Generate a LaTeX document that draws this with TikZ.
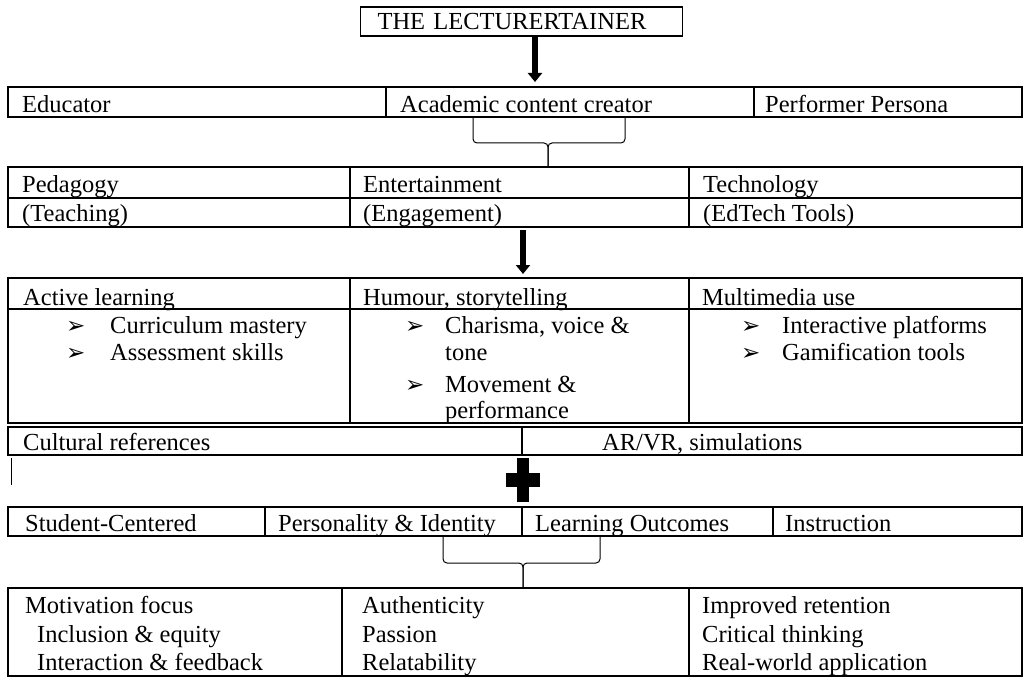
\documentclass[tikz,border=0pt]{standalone}
\usepackage{fontspec}
\setmainfont{Liberation Serif}
\newfontfamily\bulletfont{DejaVu Sans}
\usetikzlibrary{arrows.meta}
\tikzset{
  txt/.style={anchor=base west, inner sep=0pt, font=\fontsize{24.5}{29}\selectfont},
  bul/.style={anchor=base west, inner sep=0pt, font=\bulletfont\fontsize{23}{26}\selectfont},
  grid/.style={line width=1.1pt, black},
  bigarrow/.style={line width=6pt, -{Triangle[width=14pt,length=9pt]}},
  brace/.style={line width=1pt, rounded corners=4pt},
}
\begin{document}
\begin{tikzpicture}[x=1pt,y=-1pt]
\useasboundingbox (0,0) rectangle (1033,679);
% title
\node[draw, grid, anchor=west, text width=288pt, inner xsep=17pt, inner ysep=0pt,
      minimum height=29pt, align=left,
      font=\fontsize{24.5}{29}\selectfont] (title) at (360,21.5) {THE LECTURERTAINER};
\coordinate (a1s) at (535,37);
\coordinate (a1e) at (535,82);
\draw[bigarrow] (a1s) -- (a1e);
% row 1
\draw[grid] (8,87) rectangle (1022,117);
\draw[grid] (386,87) -- (386,117) (754,87) -- (754,117);
\node[txt] (educ) at (22,113) {Educator};
\node[txt] (acad) at (400,113) {Academic content creator};
\node[txt] (perf) at (765,113) {Performer Persona};
% brace 1
\coordinate (b1l) at (473,118);
\coordinate (b1r) at (625,118);
\coordinate (b1t) at (548,167);
\draw[brace] (b1l) -- (473,143) -- (548,143) -- (b1t);
\draw[brace] (b1r) -- (625,143) -- (548,143) -- (b1t);
% row 2
\draw[grid] (8,167) rectangle (1022,227);
\draw[grid] (8,198) -- (1022,198);
\draw[grid] (350,167) -- (350,227) (689,167) -- (689,227);
\node[txt] (ped) at (22,193) {Pedagogy};
\node[txt] (ent) at (363,193) {Entertainment};
\node[txt] (tech) at (703,193) {Technology};
\node[txt] (teach) at (22,222) {(Teaching)};
\node[txt] (eng) at (363,222) {(Engagement)};
\node[txt] (edt) at (703,222) {(EdTech Tools)};
\coordinate (a2s) at (523,230);
\coordinate (a2e) at (523,274);
\draw[bigarrow] (a2s) -- (a2e);
% row 3
\draw[grid] (8,278) rectangle (1022,423);
\draw[grid] (8,309) -- (1022,309);
\draw[grid] (350,278) -- (350,423) (689,278) -- (689,423);
\node[txt] (act) at (23,305) {Active learning};
\node[txt] (hum) at (363,305) {Humour, storytelling};
\node[txt] (mul) at (702,305) {Multimedia use};
\node[bul] (b11) at (66,333) {➢};
\node[txt] (cur) at (110,333) {Curriculum mastery};
\node[bul] (b12) at (66,360) {➢};
\node[txt] (ass) at (110,360) {Assessment skills};
\node[bul] (b21) at (405,333) {➢};
\node[txt] (cha) at (445,333) {Charisma, voice \&};
\node[txt] (ton) at (445,360) {tone};
\node[bul] (b22) at (405,392) {➢};
\node[txt] (mov) at (445,392) {Movement \&};
\node[txt] (prf) at (445,418) {performance};
\node[bul] (b31) at (741,333) {➢};
\node[txt] (int) at (782,333) {Interactive platforms};
\node[bul] (b32) at (741,360) {➢};
\node[txt] (gam) at (782,360) {Gamification tools};
% row 4
\draw[grid] (8,427) rectangle (1022,455);
\draw[grid] (522,427) -- (522,455);
\node[txt] (cul) at (23,450) {Cultural references};
\node[txt] (arv) at (602,450) {AR/VR, simulations};
\draw[line width=1pt] (11,458) -- (11,485);
% plus
\fill (517,458) rectangle (529,502);
\fill (506,473) rectangle (540,487);
% row 5
\draw[grid] (8,507) rectangle (1022,536);
\draw[grid] (265,507) -- (265,536) (522,507) -- (522,536) (773,507) -- (773,536);
\node[txt] (stu) at (25,531) {Student-Centered};
\node[txt] (per) at (278,531) {Personality \& Identity};
\node[txt] (lea) at (535,531) {Learning Outcomes};
\node[txt] (ins) at (785,531) {Instruction};
% brace 2
\coordinate (b2l) at (443,537);
\coordinate (b2r) at (600,537);
\coordinate (b2t) at (523,588);
\draw[brace] (b2l) -- (443,563) -- (523,563) -- (b2t);
\draw[brace] (b2r) -- (600,563) -- (523,563) -- (b2t);
% row 6
\draw[grid] (8,588) rectangle (1022,676);
\draw[grid] (342,588) -- (342,676) (689,588) -- (689,676);
\node[txt] (mot) at (25,613) {Motivation focus};
\node[txt] (inc) at (37,642) {Inclusion \& equity};
\node[txt] (inf) at (37,670) {Interaction \& feedback};
\node[txt] (aut) at (362,613) {Authenticity};
\node[txt] (pas) at (362,642) {Passion};
\node[txt] (rel) at (362,670) {Relatability};
\node[txt] (imp) at (702,613) {Improved retention};
\node[txt] (cri) at (702,642) {Critical thinking};
\node[txt] (rea) at (702,670) {Real-world application};
\end{tikzpicture}
\end{document}
